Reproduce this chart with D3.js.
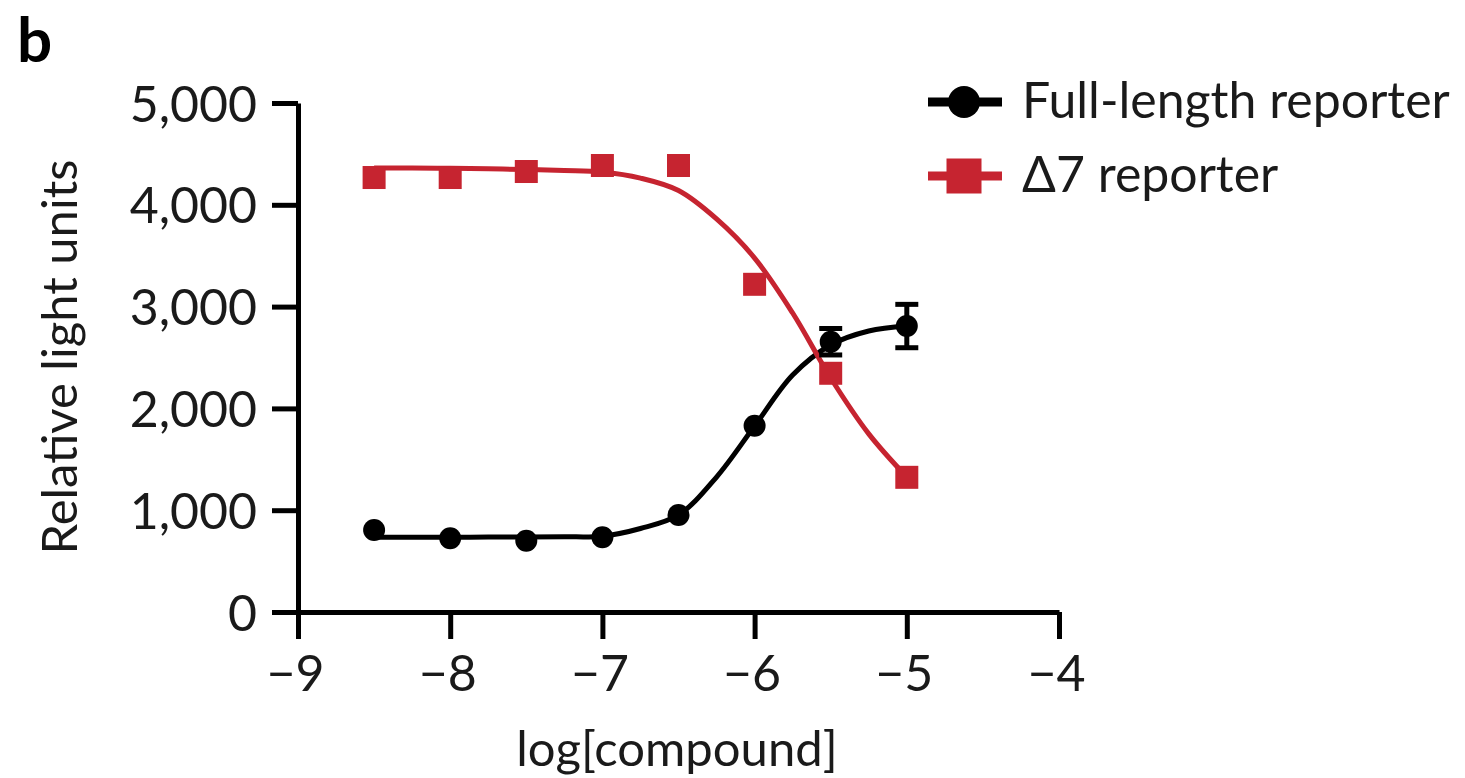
<!DOCTYPE html>
<html>
<head>
<meta charset="utf-8">
<script src="https://cdn.jsdelivr.net/npm/d3@7"></script>
<style>
  html, body { margin: 0; padding: 0; background: #fff; }
  svg { display: block; }
  text { font-family: Lato, 'Noto Sans', sans-serif; fill: #1a1a1a; }
</style>
</head>
<body>
<div id="chart"></div>
<script>
// Measured points: log[compound] vs relative light units
const doses = [-8.5, -8, -7.5, -7, -6.5, -6, -5.5, -5];
const fullLength = [805, 724, 700, 734, 953, 1830, 2655, 2809];
const fullLengthErr = [0, 0, 0, 0, 0, 0, 130, 213];
const delta7 = [4268, 4268, 4327, 4386, 4386, 3219, 2345, 1323];

// Fitted curves, every 0.25 log units
const fitX = [-8.5, -8.25, -8, -7.75, -7.5, -7.25, -7, -6.75, -6.5, -6.25, -6, -5.75, -5.5, -5.25, -5];
const fullLengthFit = [735, 735, 735, 736, 737, 739, 745, 820, 953, 1326, 1827, 2328, 2623, 2760, 2809];
const delta7Fit = [4362, 4361, 4358, 4353, 4346, 4337, 4322, 4262, 4140, 3861, 3477, 2937, 2299, 1750, 1326];

const xTicks = [-9, -8, -7, -6, -5, -4];
const yTicks = [0, 1000, 2000, 3000, 4000, 5000];

const legendItems = [
  { label: 'Full-length reporter', color: '#000', shape: 'circle' },
  { label: '\u03947 reporter', color: '#c62430', shape: 'square' }
];

const width = 1465;
const height = 778;
const red = '#c62430';
const font = "Lato, 'Noto Sans', sans-serif";

const svg = d3.select('#chart')
  .append('svg')
  .attr('width', width)
  .attr('height', height);

// faint yellow glow at the top of the scan
const defs = svg.append('defs');
const glow = defs.append('radialGradient')
  .attr('id', 'glow')
  .attr('cx', 0.5).attr('cy', 0).attr('r', 0.5);
glow.append('stop').attr('offset', '0%').attr('stop-color', '#fff3b8').attr('stop-opacity', 1);
glow.append('stop').attr('offset', '60%').attr('stop-color', '#fff8d8').attr('stop-opacity', 0.6);
glow.append('stop').attr('offset', '100%').attr('stop-color', '#ffffff').attr('stop-opacity', 0);
svg.append('ellipse')
  .attr('cx', 600).attr('cy', -10)
  .attr('rx', 330).attr('ry', 110)
  .attr('fill', 'url(#glow)');

const x = d3.scaleLinear().domain([-9, -4]).range([298, 1059]);
const y = d3.scaleLinear().domain([0, 5000]).range([612, 103]);

// Panel letter
svg.append('text')
  .attr('x', 17).attr('y', 62)
  .attr('font-size', 62)
  .attr('font-weight', 'bold')
  .style('fill', '#000')
  .text('b');

// Axes
const yAxis = svg.append('g')
  .attr('transform', `translate(${x(-9)},0)`)
  .call(d3.axisLeft(y).tickValues(yTicks).tickSize(26).tickSizeOuter(0).tickPadding(15)
    .tickFormat(d3.format(',')));

const xAxis = svg.append('g')
  .attr('transform', `translate(0,${y(0)})`)
  .call(d3.axisBottom(x).tickValues(xTicks).tickSize(27).tickSizeOuter(0)
    .tickFormat(d3.format('d')));

[yAxis, xAxis].forEach(a => {
  a.select('.domain').attr('stroke', '#000').attr('stroke-width', 5);
  a.selectAll('.tick line').attr('stroke', '#000').attr('stroke-width', 5);
  a.selectAll('.tick text')
    .attr('font-size', 50)
    .attr('font-family', font)
    .style('fill', '#1a1a1a');
});
yAxis.selectAll('.tick text').attr('dy', '0.36em');
xAxis.selectAll('.tick text').attr('y', 79).attr('dy', 0).attr('dx', -3);

// Axis titles
svg.append('text')
  .attr('x', 677).attr('y', 766)
  .attr('text-anchor', 'middle')
  .attr('font-size', 49)
  .text('log[compound]');

svg.append('text')
  .attr('transform', `translate(77,357) rotate(-90)`)
  .attr('text-anchor', 'middle')
  .attr('font-size', 49)
  .text('Relative light units');

// Fit curves
const line = (vals) => d3.line()
  .x((d, i) => x(fitX[i]))
  .y(d => y(d))
  .curve(d3.curveCatmullRom.alpha(0.5))(vals);

svg.append('path')
  .attr('d', line(fullLengthFit))
  .attr('fill', 'none')
  .attr('stroke', '#000')
  .attr('stroke-width', 5);

svg.append('path')
  .attr('d', line(delta7Fit))
  .attr('fill', 'none')
  .attr('stroke', red)
  .attr('stroke-width', 5);

// Error bars (full-length)
const errG = svg.append('g')
  .selectAll('g')
  .data(doses.map((d, i) => ({ x: d, v: fullLength[i], e: fullLengthErr[i] })).filter(d => d.e > 0))
  .join('g')
  .attr('stroke', '#000')
  .attr('stroke-width', 5);
errG.append('line')
  .attr('x1', d => x(d.x)).attr('x2', d => x(d.x))
  .attr('y1', d => y(d.v + d.e)).attr('y2', d => y(d.v - d.e));
errG.append('line')
  .attr('x1', d => x(d.x) - 11.5).attr('x2', d => x(d.x) + 11.5)
  .attr('y1', d => y(d.v + d.e)).attr('y2', d => y(d.v + d.e));
errG.append('line')
  .attr('x1', d => x(d.x) - 11.5).attr('x2', d => x(d.x) + 11.5)
  .attr('y1', d => y(d.v - d.e)).attr('y2', d => y(d.v - d.e));

// Markers
svg.append('g')
  .selectAll('circle')
  .data(doses)
  .join('circle')
  .attr('cx', d => x(d))
  .attr('cy', (d, i) => y(fullLength[i]))
  .attr('r', 11)
  .attr('fill', '#000');

svg.append('g')
  .selectAll('rect')
  .data(doses)
  .join('rect')
  .attr('x', d => x(d) - 11.5)
  .attr('y', (d, i) => y(delta7[i]) - 11.5)
  .attr('width', 23)
  .attr('height', 23)
  .attr('fill', red);

// Legend
const legend = svg.append('g')
  .selectAll('g')
  .data(legendItems)
  .join('g')
  .attr('transform', (d, i) => `translate(928,${102 + i * 74})`);

legend.append('line')
  .attr('x1', 0).attr('x2', 74)
  .attr('y1', 0).attr('y2', 0)
  .attr('stroke', d => d.color)
  .attr('stroke-width', 9);

legend.filter(d => d.shape === 'circle')
  .append('circle')
  .attr('cx', 36).attr('cy', 0).attr('r', 16)
  .attr('fill', d => d.color);

legend.filter(d => d.shape === 'square')
  .append('rect')
  .attr('x', 36 - 17.5).attr('y', -17.5)
  .attr('width', 35).attr('height', 35)
  .attr('fill', d => d.color);

legend.append('text')
  .attr('x', 94)
  .attr('y', 16)
  .attr('font-size', 50)
  .text(d => d.label);
</script>
</body>
</html>
